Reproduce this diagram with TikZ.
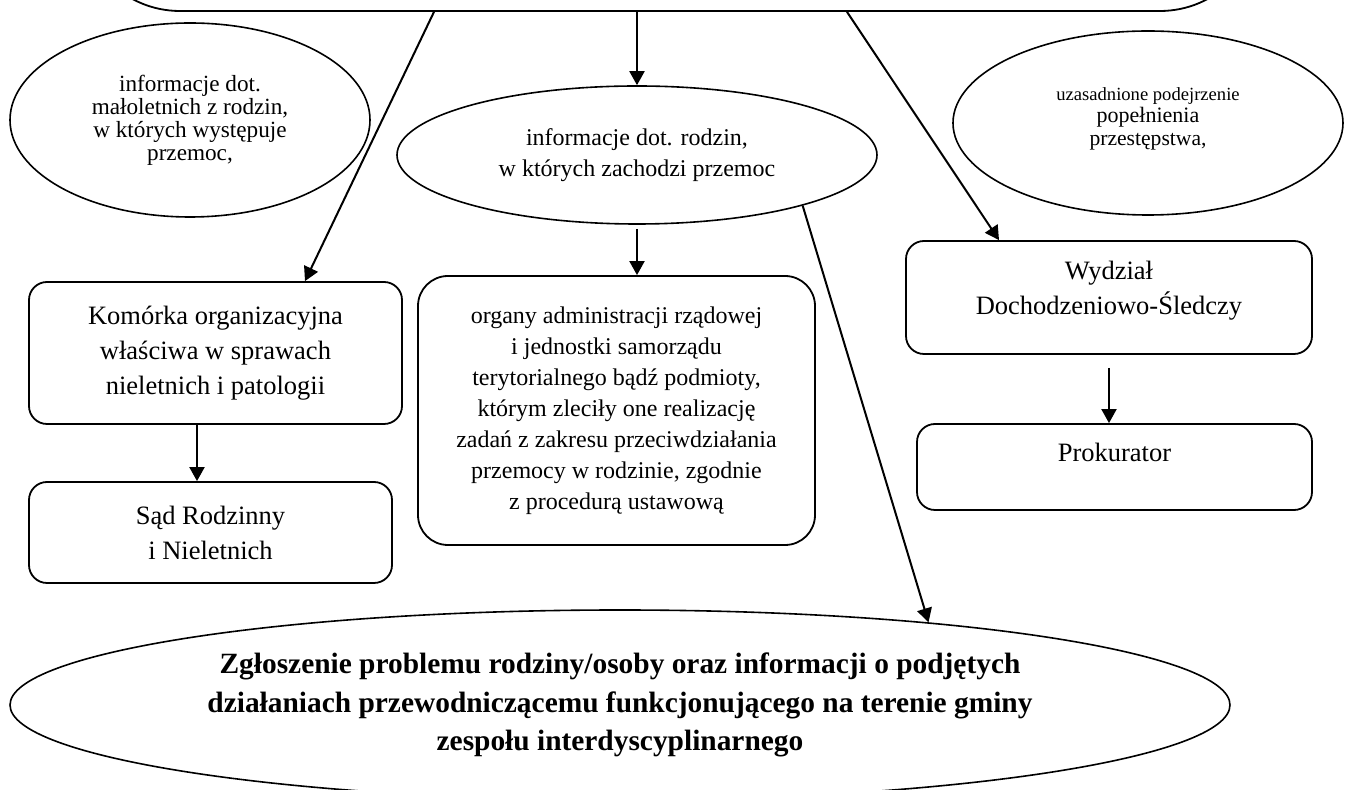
\documentclass[tikz,border=0pt]{standalone}
\usepackage{fontspec}
\setmainfont{Liberation Serif}
\usetikzlibrary{shapes.geometric, arrows.meta, positioning, calc}
\newcommand{\boxfont}{\fontsize{13.25pt}{17.5pt}\selectfont}
\newcommand{\ovalfont}{\fontsize{11.6pt}{11.5pt}\selectfont}
\newcommand{\suspfont}{\fontsize{9.3pt}{11.25pt}\selectfont}
\newcommand{\midfont}{\fontsize{12pt}{15.5pt}\selectfont}
\newcommand{\reportfont}{\fontsize{14.7pt}{19.25pt}\selectfont\bfseries}
\tikzset{
    roundbox/.style={rectangle, draw, line width=0.9pt, rounded corners=9pt,
                     align=center, inner sep=0pt, font=\boxfont},
    oval/.style={ellipse, draw, line width=0.8pt, align=center, inner sep=0pt},
    flow/.style={line width=1pt, -{Triangle[length=7pt,width=7.5pt]}}
}

\begin{document}
\begin{tikzpicture}[x=0.5pt, y=-0.5pt]
    \useasboundingbox (0,0) rectangle (1351,790);
    \clip (0,0) rectangle (1351,790);

    % top box, only its lower edge is in view
    \node[roundbox, rounded corners=50pt, minimum width=590pt,
          minimum height=110pt] (top) at (670,-99) {};

    \node[oval, minimum width=180pt, minimum height=97pt, font=\ovalfont]
        (minorsinfo) at (190,120) {informacje dot.\\ małoletnich z rodzin,\\
        w których występuje\\ przemoc,};
    \node[oval, minimum width=240pt, minimum height=69pt, font=\midfont]
        (familyinfo) at (637,155) {informacje dot. rodzin,\\ w których zachodzi przemoc};
    \node[oval, minimum width=195pt, minimum height=92pt, font=\suspfont, text depth=6.5pt]
        (suspicion) at (1148,123) {uzasadnione podejrzenie\\
        {\fontsize{11pt}{11.25pt}\selectfont popełnienia}\\
        {\fontsize{10.8pt}{11.25pt}\selectfont przestępstwa,}};

    \node[roundbox, minimum width=186.5pt, minimum height=71pt]
        (unit) at (215.5,353) {Komórka organizacyjna\\ właściwa w sprawach\\
        nieletnich i patologii};
    \node[roundbox, minimum width=181.5pt, minimum height=50.5pt]
        (court) at (210.5,532.5) {Sąd Rodzinny\\ i Nieletnich};
    \node[roundbox, rounded corners=15pt, minimum width=198.5pt,
          minimum height=134.5pt, font=\midfont]
        (agencies) at (616.5,410.5) {organy administracji rządowej\\
        i jednostki samorządu\\ terytorialnego bądź podmioty,\\
        którym zleciły one realizację\\ zadań z zakresu przeciwdziałania\\
        przemocy w rodzinie, zgodnie\\ z procedurą ustawową};
    \node[roundbox, minimum width=203pt, minimum height=56.5pt, text depth=10pt]
        (investigation) at (1109,297.5) {Wydział\\ Dochodzeniowo-Śledczy};
    \node[roundbox, minimum width=197.5pt, minimum height=43pt, text depth=15pt]
        (prosecutor) at (1114.5,467) {Prokurator};

    \node[oval, minimum width=610pt, minimum height=95pt, font=\reportfont]
        (report) at (620,705) {Zgłoszenie problemu rodziny/osoby oraz informacji o podjętych\\
        działaniach przewodniczącemu funkcjonującego na terenie gminy\\
        zespołu interdyscyplinarnego};

    % connectors
    \draw[flow] ([xshift=-118pt]top.south) -- ([xshift=44.75pt]unit.north);
    \draw[flow] ([xshift=-16.5pt]top.south) -- (familyinfo.north);
    \draw[flow] ([xshift=88.5pt]top.south) -- ([xshift=-55pt]investigation.north);
    \draw[flow, shorten <=2pt] (familyinfo.south) -- (familyinfo.south |- agencies.north);
    \draw[flow] ([xshift=-9.25pt]unit.south) -- ([xshift=-6.75pt]court.north);
    \draw[flow, shorten <=6.5pt] (investigation.south) -- (investigation.south |- prosecutor.north);
    \draw[flow] (familyinfo.-17) -- (report.15);
\end{tikzpicture}
\end{document}
